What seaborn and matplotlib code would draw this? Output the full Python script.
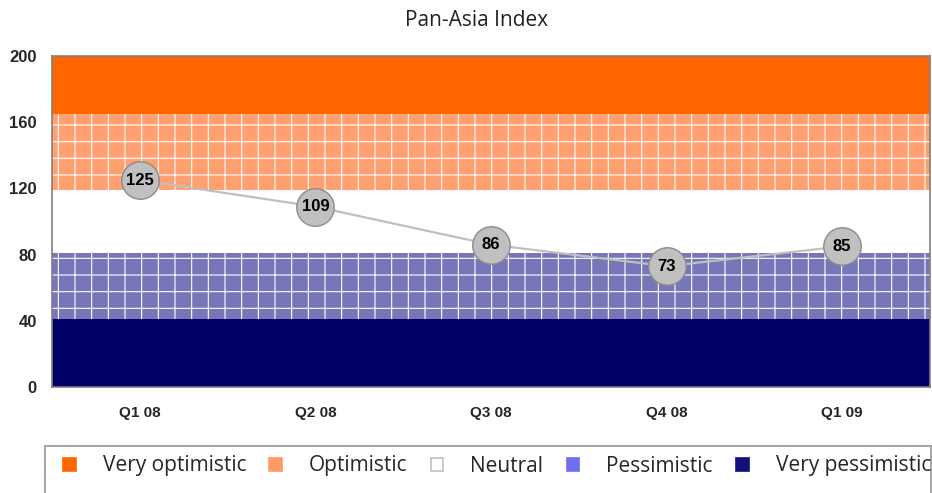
import numpy as np
import matplotlib
matplotlib.use("Agg")
import matplotlib.pyplot as plt
import seaborn as sns
from matplotlib.patches import Patch, Rectangle
from matplotlib import font_manager as fm

# Data
quarters = ['Q1 08', 'Q2 08', 'Q3 08', 'Q4 08', 'Q1 09']
index_values = [125, 109, 86, 73, 85]

band_names = ['Very optimistic', 'Optimistic', 'Neutral', 'Pessimistic', 'Very pessimistic']
band_lower = [165, 119, 81, 41, 0]
band_upper = [200, 165, 119, 81, 41]

band_colors = ['#FF6600', '#FFA070', '#FFFFFF', '#7676B8', '#000066']
band_hatches = [None, '+', None, '+', None]
legend_colors = ['#FF6600', '#FF9966', '#FFFFFF', '#6F6FF0', '#10107A']
legend_edges = ['#FF6600', '#FF9966', '#C0C0C0', '#6F6FF0', '#10107A']

sns.set_style('white')
plt.rcParams['hatch.linewidth'] = 0.8

# pick the regular-width Liberation Sans Bold (avoid the Narrow variant)
bold_path = None
for f in fm.findSystemFonts():
    if f.endswith('LiberationSans-Bold.ttf'):
        bold_path = f
        break


def bold_font(size):
    if bold_path:
        return fm.FontProperties(fname=bold_path, size=size)
    return fm.FontProperties(family='DejaVu Sans', weight='bold', size=size)


fig = plt.figure(figsize=(9.32, 4.93), dpi=100)
ax = fig.add_axes([52 / 932, 1 - 387 / 493, (930 - 52) / 932, (387 - 56) / 493])

pos = np.arange(len(quarters))
x_edges = [pos[0] - 0.5, pos[-1] + 0.5]

# background bands
for lo, hi, col, h in zip(band_lower, band_upper, band_colors, band_hatches):
    ax.fill_between(x_edges, [lo, lo], [hi, hi], facecolor=col,
                    edgecolor='white' if h else col, hatch=h, linewidth=0, zorder=1)

# index line with circle markers
sns.lineplot(x=pos, y=index_values, ax=ax, color='#C0C0C0', linewidth=1.6,
             marker='o', markersize=27, markerfacecolor='#C0C0C0',
             markeredgecolor='#8C8C8C', markeredgewidth=1.0, zorder=3)

for x, v in zip(pos, index_values):
    ax.text(x, v, str(v), ha='center', va='center', fontproperties=bold_font(12),
            color='black', zorder=4)

ax.set_xlim(x_edges)
ax.set_ylim(0, 200)
ax.set_yticks([0, 40, 80, 120, 160, 200])
ax.set_xticks(pos)
ax.set_xticklabels(quarters)
ax.set_xticks(np.arange(len(quarters) + 1) - 0.5, minor=True)
ax.tick_params(axis='x', which='major', length=0, pad=14)
ax.tick_params(axis='x', which='minor', length=5, color='#808080', width=1)
ax.tick_params(axis='y', length=5, color='#808080', width=1, pad=6)
for lab in ax.get_xticklabels():
    lab.set_fontproperties(bold_font(11))
for lab in ax.get_yticklabels():
    lab.set_fontproperties(bold_font(12))
for sp in ax.spines.values():
    sp.set_color('#808080')
    sp.set_linewidth(1.2)
ax.set_xlabel('')
ax.set_ylabel('')

fig.text(477 / 932, 1 - 20 / 493, 'Pan-Asia Index', ha='center', va='center',
         fontsize=15, family='Open Sans', color='#222222')

# legend box runs off the bottom of the picture
fig.patches.append(Rectangle((45 / 932, -0.05), (931 - 45) / 932, 0.05 + (493 - 446) / 493,
                             transform=fig.transFigure, facecolor='white',
                             edgecolor='#A8A8A8', linewidth=1.5, zorder=0))

handles = [Patch(facecolor=fc, edgecolor=ec, linewidth=1.2)
           for fc, ec in zip(legend_colors, legend_edges)]
leg = fig.legend(handles, band_names, loc='center left', ncol=5,
                 bbox_to_anchor=(63 / 932, 1 - 466 / 493, (931 - 63) / 932, 0),
                 mode='expand', frameon=False,
                 prop={'family': 'Open Sans', 'size': 15},
                 handlelength=0.6, handleheight=0.6, handletextpad=1.3,
                 borderpad=0, borderaxespad=0)

fig.savefig('out.png', dpi=100)
